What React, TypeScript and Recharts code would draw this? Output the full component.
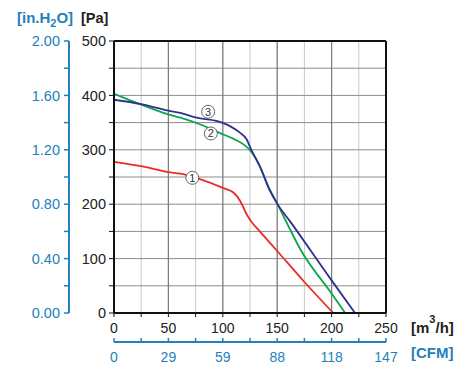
import React from 'react';
import { LineChart, Line, XAxis, YAxis, CartesianGrid, ReferenceLine, ReferenceDot } from 'recharts';

const flowTicks = [0, 25, 50, 75, 100, 125, 150, 175, 200, 225, 250];
const pressureTicks = [0, 50, 100, 150, 200, 250, 300, 350, 400, 450, 500];
const inH2OTicks = [0, 0.2, 0.4, 0.6, 0.8, 1.0, 1.2, 1.4, 1.6, 1.8, 2.0];
const cfmTickLabels = ['0', '29', '59', '88', '118', '147'];
const majorFlowLines = [50, 100, 150, 200];

const curve1Flow = [0, 25, 50, 61, 79, 100, 110, 116, 122, 127, 134, 150, 175, 201.5];
const curve1Pressure = [278, 270, 259, 256, 246, 230, 221, 206, 181, 166, 150, 114, 57, 0];

const curve2Flow = [0, 25, 50, 61, 80, 97, 110, 119, 126, 134, 142, 150, 162, 171, 200, 212.5];
const curve2Pressure = [403, 383, 365, 359, 346, 331, 320, 310, 297, 270, 230, 201, 153, 118, 36, 0];

const curve3Flow = [0, 25, 50, 61, 76, 94, 107, 116, 122, 126, 134, 143, 150, 162, 200, 221.5];
const curve3Pressure = [392, 384, 372, 368, 359, 353, 343, 331, 319, 301, 270, 227, 201, 168, 60, 0];

const curveLabels = ['1', '2', '3'];
const labelFlow = [72, 89, 86.5];
const labelPressure = [248.5, 330, 370];

const RED = '#ec2b26';
const GREEN = '#0aa64e';
const NAVY = '#2e3192';
const BLUE = '#2381b8';
const FONT = 'Arial, "Liberation Sans", sans-serif';

const MAIN = 0;
const SECOND = 1;

const toData = (flow: number[], pressure: number[]) => flow.map((q, i) => ({ q, p: pressure[i] }));
const data1 = toData(curve1Flow, curve1Pressure);
const data2 = toData(curve2Flow, curve2Pressure);
const data3 = toData(curve3Flow, curve3Pressure);

const cfmFormatter = (v: number) => (v % 50 === 0 ? cfmTickLabels[v / 50] : '');

export default function App() {
  return (
    <div style={{ position: 'absolute', left: 0, top: 0, width: 474, height: 373, fontFamily: FONT, background: '#fff' }}>
      <LineChart width={474} height={373} margin={{ top: 41, right: 88, bottom: 0, left: 0 }}>
        <CartesianGrid xAxisId={MAIN} yAxisId={MAIN} horizontal={false} stroke="#c9c9c9" strokeDasharray="" />
        <CartesianGrid xAxisId={MAIN} yAxisId={MAIN} vertical={false} stroke="#8c8c8c" strokeDasharray="" />
        <XAxis
          xAxisId={MAIN}
          type="number"
          dataKey="q"
          domain={[0, 250]}
          ticks={flowTicks}
          allowDataOverflow
          height={29}
          tickSize={4}
          tickMargin={6}
          interval={0}
          axisLine={{ stroke: '#111', strokeWidth: 2 }}
          tickLine={{ stroke: '#111' }}
          tick={{ fill: '#222', fontSize: 14 }}
          tickFormatter={(v: number) => (v % 50 === 0 ? String(v) : '')}
        />
        <XAxis
          xAxisId={SECOND}
          type="number"
          dataKey="q"
          domain={[0, 250]}
          ticks={flowTicks}
          allowDataOverflow
          height={31}
          tickSize={-4}
          tickMargin={14}
          interval={0}
          axisLine={{ stroke: BLUE, strokeWidth: 2 }}
          tickLine={{ stroke: BLUE, strokeWidth: 1.5 }}
          tick={{ fill: BLUE, fontSize: 14 }}
          tickFormatter={cfmFormatter}
        />
        <YAxis
          yAxisId={MAIN}
          type="number"
          domain={[0, 500]}
          ticks={pressureTicks}
          allowDataOverflow
          width={45}
          tickSize={5}
          tickMargin={3}
          interval={0}
          axisLine={{ stroke: '#111', strokeWidth: 2 }}
          tickLine={{ stroke: '#111' }}
          tick={{ fill: '#222', fontSize: 14.5 }}
          tickFormatter={(v: number) => (v % 100 === 0 ? String(v) : '')}
        />
        <YAxis
          yAxisId={SECOND}
          type="number"
          domain={[0, 2]}
          ticks={inH2OTicks}
          allowDataOverflow
          width={69}
          tickSize={5}
          tickMargin={4}
          interval={0}
          axisLine={{ stroke: BLUE, strokeWidth: 2 }}
          tickLine={{ stroke: BLUE, strokeWidth: 1.5 }}
          tick={{ fill: BLUE, fontSize: 14.5 }}
          tickFormatter={(v: number, i: number) => (i % 2 === 0 ? v.toFixed(2) : '')}
        />
        {majorFlowLines.map((x) => (
          <ReferenceLine key={x} xAxisId={MAIN} yAxisId={MAIN} x={x} stroke="#7d7d7d" strokeWidth={1.2} />
        ))}
        <ReferenceLine xAxisId={MAIN} yAxisId={MAIN} y={500} stroke="#111" strokeWidth={2} />
        <ReferenceLine xAxisId={MAIN} yAxisId={MAIN} x={250} stroke="#111" strokeWidth={2} />
        <Line xAxisId={SECOND} yAxisId={MAIN} data={data3} dataKey="p" type="monotone" stroke="transparent" strokeWidth={0} dot={false} activeDot={false} legendType="none" isAnimationActive={false} />
        <Line xAxisId={MAIN} yAxisId={MAIN} data={data1} dataKey="p" type="monotone" stroke={RED} strokeWidth={1.8} dot={false} activeDot={false} isAnimationActive={false} />
        <Line xAxisId={MAIN} yAxisId={MAIN} data={data2} dataKey="p" type="monotone" stroke={GREEN} strokeWidth={1.8} dot={false} activeDot={false} isAnimationActive={false} />
        <Line xAxisId={MAIN} yAxisId={MAIN} data={data3} dataKey="p" type="monotone" stroke={NAVY} strokeWidth={1.8} dot={false} activeDot={false} isAnimationActive={false} />
        {curveLabels.map((lab, i) => (
          <ReferenceDot
            key={lab}
            xAxisId={MAIN}
            yAxisId={MAIN}
            x={labelFlow[i]}
            y={labelPressure[i]}
            r={6.5}
            fill="#fff"
            stroke="#555"
            strokeWidth={0.9}
            label={{ value: lab, position: 'center', fill: '#333', fontSize: 11 }}
          />
        ))}
      </LineChart>
      <svg width={474} height={373} style={{ position: 'absolute', left: 0, top: 0, pointerEvents: 'none' }}>
        <text x={17} y={23} fill={BLUE} fontSize={15} fontWeight="bold">
          [in.H<tspan fontSize={11} dy={4}>2</tspan><tspan dy={-4}>O]</tspan>
        </text>
        <text x={81} y={23} fill="#222" fontSize={14.5} fontWeight="bold">[Pa]</text>
        <text x={411} y={333} fill="#222" fontSize={15} fontWeight="bold">
          [m<tspan fontSize={11} dy={-10}>3</tspan><tspan dy={10}>/h]</tspan>
        </text>
        <text x={411} y={358} fill={BLUE} fontSize={15} fontWeight="bold">[CFM]</text>
      </svg>
    </div>
  );
}
